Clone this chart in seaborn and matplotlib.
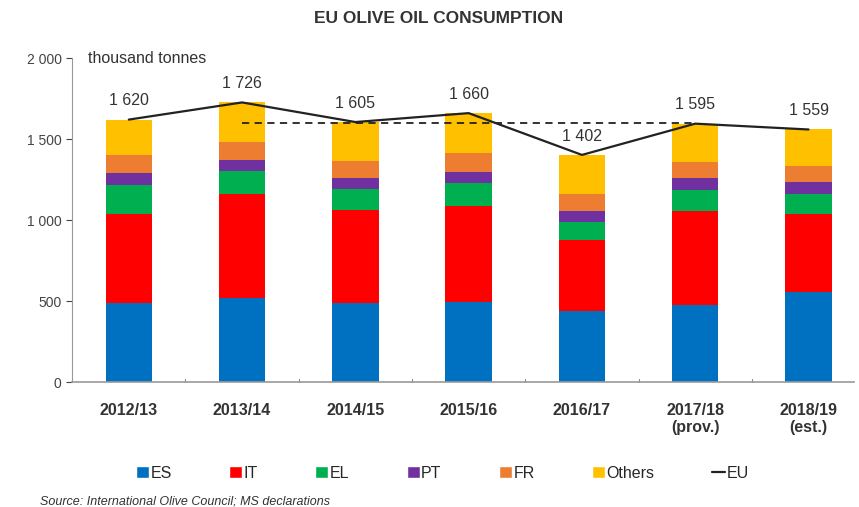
import numpy as np
import pandas as pd
import matplotlib
matplotlib.use("Agg")
import matplotlib.pyplot as plt
from matplotlib.patches import Patch
from matplotlib.lines import Line2D
import seaborn as sns

# thousand tonnes
years = ["2012/13", "2013/14", "2014/15", "2015/16", "2016/17", "2017/18\n(prov.)", "2018/19\n(est.)"]
es = [488, 520, 490, 492, 440, 473, 557]
it = [549, 640, 572, 597, 437, 580, 480]
el = [179, 142, 129, 139, 109, 132, 125]
pt = [74, 68, 68, 70, 67, 74, 71]
fr = [111, 111, 105, 114, 109, 101, 103]
others = [219, 245, 241, 248, 240, 235, 223]
eu = [1620, 1726, 1605, 1660, 1402, 1595, 1559]
avg_5y = 1598

series = ["ES", "IT", "EL", "PT", "FR", "Others"]
colors = ["#0070C0", "#FF0000", "#00B050", "#7030A0", "#ED7D31", "#FFC000"]

sns.set_style("white")
plt.rcParams['font.family'] = ['Liberation Sans', 'DejaVu Sans']

fig = plt.figure(figsize=(8.59, 5.07), dpi=100)
ax = fig.add_axes([0.084, 0.2465, 0.91, 0.639])

df = pd.DataFrame({"year": years, "ES": es, "IT": it, "EL": el, "PT": pt, "FR": fr, "Others": others})
cum = df[series].cumsum(axis=1)

# draw tallest stack first so lower segments overlay it
for name, col in reversed(list(zip(series, colors))):
    sns.barplot(x=df["year"], y=cum[name], color=col, width=0.41, ax=ax,
                saturation=1, edgecolor="none", linewidth=0)

x = np.arange(len(years))
ax.plot(x, eu, color="#222222", lw=1.6, zorder=5)
ax.plot([1, 5], [avg_5y, avg_5y], color="#222222", lw=1.3, ls=(0, (4, 3)), zorder=5)

for xi, v in zip(x, eu):
    ax.text(xi, v + 70, f"{v:,}".replace(",", " "), ha="center", va="bottom",
            fontsize=11.5, color="#333333")

ax.set_ylim(0, 2000)
ax.set_xlim(-0.5, 6.4)
ax.set_yticks([0, 500, 1000, 1500, 2000])
ax.set_yticklabels(["0", "500", "1 000", "1 500", "2 000"])
ax.set_xlabel("")
ax.set_ylabel("")
ax.tick_params(axis="y", labelsize=10, colors="#444444", length=4, left=True, direction="out")
ax.tick_params(axis="x", labelsize=11.5, length=0, pad=15)
for lab in ax.get_xticklabels():
    lab.set_color("#333333")
    lab.set_fontweight("bold")
for xb in np.arange(0.5, 6, 1):
    ax.plot([xb, xb], [0, 20], color="#888888", lw=0.8, clip_on=False)

for s in ["top", "right"]:
    ax.spines[s].set_visible(False)
ax.spines["left"].set_color("#999999")
ax.spines["bottom"].set_color("#999999")
ax.spines["bottom"].set_linewidth(1.2)

ax.text(0.02, 2000, "thousand tonnes", transform=ax.get_yaxis_transform(),
        ha="left", va="center", fontsize=11.5, color="#333333")

fig.text(0.51, 0.963, "EU OLIVE OIL CONSUMPTION", ha="center", va="center",
         fontsize=12.5, fontweight="bold", color="#333333")

handles = [Patch(facecolor=c, label=n) for n, c in zip(series, colors)]
handles.append(Line2D([0], [0], color="#222222", lw=1.6, label="EU"))
fig.legend(handles=handles, loc="center", bbox_to_anchor=(0.515, 0.067), ncol=7,
           frameon=False, fontsize=11.5, handlelength=0.8, handleheight=0.8,
           handletextpad=0.1, columnspacing=3.6)

fig.text(0.047, 0.0, "Source: International Olive Council; MS declarations",
         fontsize=9, style="italic", color="#333333", va="bottom")

fig.savefig("out.png", dpi=100)
